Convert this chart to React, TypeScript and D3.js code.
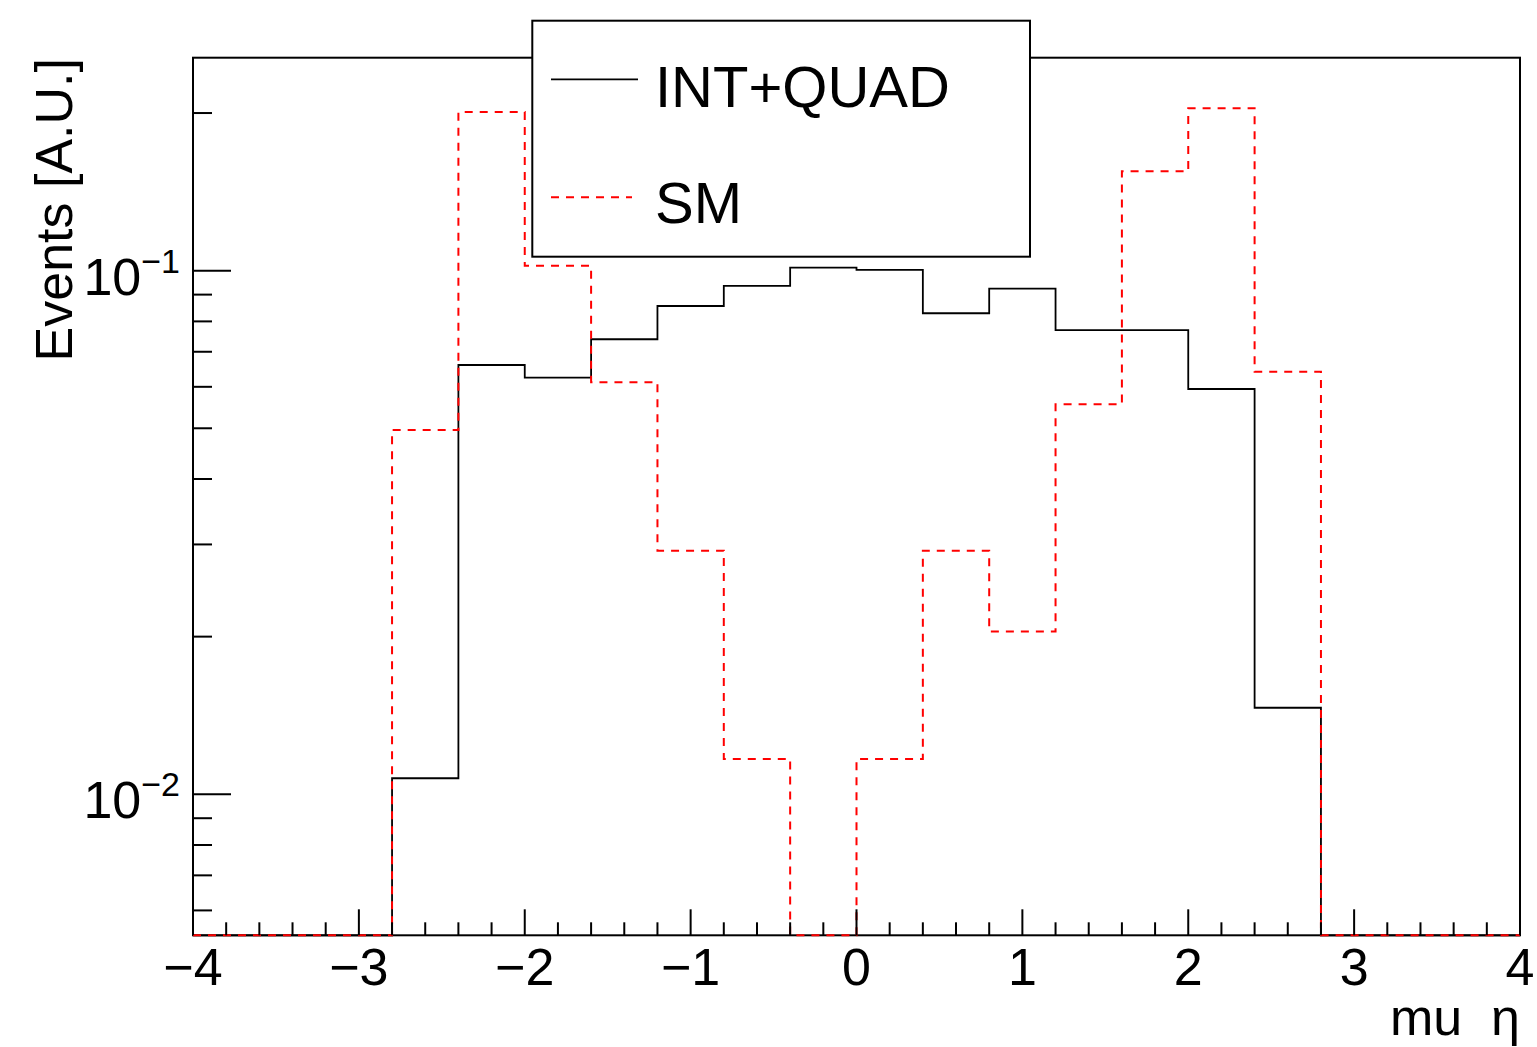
import React, { useEffect } from "react";
import * as d3 from "d3";

// Bin edges: 20 bins of width 0.4 from -4 to 4
const binLow = [-4.0, -3.6, -3.2, -2.8, -2.4, -2.0, -1.6, -1.2, -0.8, -0.4, 0.0, 0.4, 0.8, 1.2, 1.6, 2.0, 2.4, 2.8, 3.2, 3.6];
const binWidth = 0.4;

// INT+QUAD (black solid)
const intQuad = [0, 0, 0, 0.01073, 0.06604, 0.06245, 0.07396, 0.0856, 0.0935, 0.1013, 0.1003, 0.08291, 0.09238, 0.077, 0.077, 0.05943, 0.01463, 0, 0, 0];
// SM (red dashed)
const sm = [0, 0, 0, 0.04963, 0.2009, 0.1022, 0.06121, 0.02919, 0.01168, 0, 0.01168, 0.02919, 0.02045, 0.05556, 0.1548, 0.2042, 0.06413, 0, 0, 0];

const xTickLabels = ["\u22124", "\u22123", "\u22122", "\u22121", "0", "1", "2", "3", "4"];
const xTickValues = [-4, -3, -2, -1, 0, 1, 2, 3, 4];
const yMajorValues = [0.1, 0.01];
const yMajorExp = ["\u22121", "\u22122"];

const legendLabels = ["INT+QUAD", "SM"];
const xTitle = "mu";
const xTitleSym = "\u03B7";
const yTitle = "Events [A.U.]";

const W = 1537;
const H = 1047;
const FL = 193, FR = 1520, FT = 57.7, FB = 935.3;
const FONT = "'Liberation Sans', Arial, Helvetica, sans-serif";

export default function App() {
  useEffect(() => {
    document.body.style.margin = "0";
  }, []);

  const x = d3.scaleLinear().domain([-4, 4]).range([FL, FR]);
  const y = d3.scaleLog().domain([0.005378, 0.2551]).range([FB, FT]);
  const yMin = 0.005378;

  const stepPath = (vals: number[]) => {
    const pts: [number, number][] = vals.map((v, i) => [binLow[i], Math.max(v, yMin)]);
    pts.push([binLow[binLow.length - 1] + binWidth, Math.max(vals[vals.length - 1], yMin)]);
    return d3
      .line<[number, number]>()
      .x((d) => x(d[0]))
      .y((d) => y(d[1]))
      .curve(d3.curveStepAfter)(pts) as string;
  };

  // x ticks: minor every 0.2
  const xMinor: number[] = [];
  for (let i = 0; i <= 40; i++) xMinor.push(-4 + i * 0.2);

  // y minor ticks
  const yMinor: number[] = [];
  for (const dec of [0.001, 0.01, 0.1]) {
    for (let k = 2; k <= 9; k++) {
      const v = k * dec;
      if (v >= yMin && v <= 0.2551) yMinor.push(v);
    }
  }

  return (
    <svg
      width={W}
      height={H}
      style={{ position: "absolute", left: 0, top: 0, background: "#fff" }}
      fontFamily={FONT}
    >
      <rect x={0} y={0} width={W} height={H} fill="#fff" />
      {/* frame */}
      <rect x={FL} y={FT} width={FR - FL} height={FB - FT} fill="none" stroke="#000" strokeWidth={2} />

      {/* histograms */}
      <path d={stepPath(intQuad)} fill="none" stroke="#000" strokeWidth={1.8} />
      <path d={stepPath(sm)} fill="none" stroke="#ff0000" strokeWidth={2} strokeDasharray="8 7" />

      {/* x ticks */}
      {xMinor.map((v, i) => {
        const major = Math.abs(v - Math.round(v)) < 1e-6;
        return (
          <line
            key={"xm" + i}
            x1={x(v)}
            x2={x(v)}
            y1={FB}
            y2={FB - (major ? 26 : 13)}
            stroke="#000"
            strokeWidth={2}
          />
        );
      })}
      {xTickValues.map((v, i) => (
        <text key={"xl" + i} x={x(v)} y={985} fontSize={52} textAnchor="middle" fill="#000">
          {xTickLabels[i]}
        </text>
      ))}

      {/* y ticks */}
      {yMinor.map((v, i) => (
        <line key={"ym" + i} x1={FL} x2={FL + 19} y1={y(v)} y2={y(v)} stroke="#000" strokeWidth={2} />
      ))}
      {yMajorValues.map((v, i) => (
        <g key={"yM" + i}>
          <line x1={FL} x2={FL + 38} y1={y(v)} y2={y(v)} stroke="#000" strokeWidth={2} />
          <text x={180} y={y(v) + 24} fontSize={52} textAnchor="end" fill="#000">
            10
            <tspan dy={-22} fontSize={34}>
              {yMajorExp[i]}
            </tspan>
          </text>
        </g>
      ))}

      {/* axis titles */}
      <text
        transform={`translate(72, 58) rotate(-90)`}
        fontSize={52}
        textAnchor="end"
        fill="#000"
      >
        {yTitle}
      </text>
      <text x={1520} y={1035} fontSize={52} textAnchor="end" fill="#000">
        {xTitle}
        {"\u00A0\u00A0"}
        {xTitleSym}
      </text>

      {/* legend */}
      <rect x={532.3} y={20.7} width={1030 - 532.3} height={256.7 - 20.7} fill="#fff" stroke="#000" strokeWidth={2} />
      <line x1={551} x2={638} y1={79.3} y2={79.3} stroke="#000" strokeWidth={1.8} />
      <line x1={551} x2={632} y1={197.3} y2={197.3} stroke="#ff0000" strokeWidth={2} strokeDasharray="8 7" />
      <text x={655} y={106.7} fontSize={58} fill="#000">
        {legendLabels[0]}
      </text>
      <text x={655} y={223.3} fontSize={58} fill="#000">
        {legendLabels[1]}
      </text>
    </svg>
  );
}
